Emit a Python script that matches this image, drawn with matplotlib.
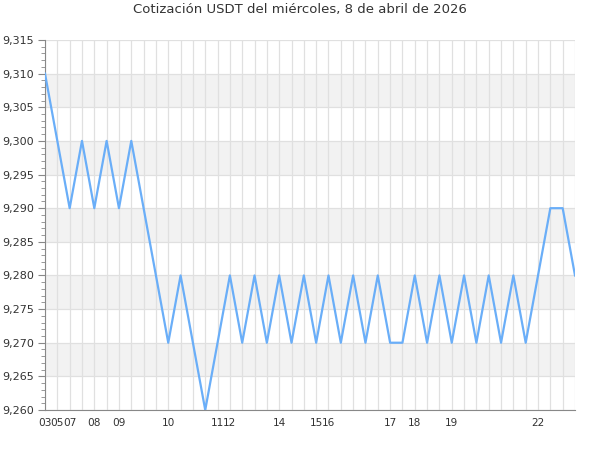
import matplotlib
matplotlib.use("Agg")
import matplotlib.pyplot as plt
from matplotlib.ticker import MultipleLocator, FuncFormatter

title = "Cotización USDT del miércoles, 8 de abril de 2026"
values = [9.310, 9.300, 9.290, 9.300, 9.290, 9.300, 9.290, 9.300, 9.290, 9.280,
          9.270, 9.280, 9.270, 9.260, 9.270, 9.280, 9.270, 9.280, 9.270, 9.280,
          9.270, 9.280, 9.270, 9.280, 9.270, 9.280, 9.270, 9.280, 9.270, 9.270,
          9.280, 9.270, 9.280, 9.270, 9.280, 9.270, 9.280, 9.270, 9.280, 9.270,
          9.280, 9.290, 9.290, 9.280]
tick_idx = [0, 1, 2, 4, 6, 10, 14, 15, 19, 22, 23, 28, 30, 33, 40]
tick_labels = ["03", "05", "07", "08", "09", "10", "11", "12", "14", "15", "16", "17", "18", "19", "22"]
y_min, y_max = 9.260, 9.315
band_starts = [9.265, 9.275, 9.285, 9.295, 9.305]

fig = plt.figure(figsize=(6, 4.5), dpi=100)
ax = fig.add_axes([45/600, 40/450, 530/600, 370/450])

x = list(range(len(values)))
for b in band_starts:
    ax.axhspan(b, b + 0.005, color="#f2f2f2", zorder=0, lw=0)
for xi in x:
    ax.axvline(xi, color="#e0e0e0", lw=0.9, zorder=1)
ax.yaxis.set_major_locator(MultipleLocator(0.005))
ax.yaxis.set_minor_locator(MultipleLocator(0.001))
ax.grid(axis="y", which="major", color="#e0e0e0", lw=0.9, zorder=1)
ax.set_axisbelow(True)

ax.plot(x, values, color="#6aaef8", lw=1.6, zorder=3)

ax.set_xlim(0, len(values) - 1)
ax.set_ylim(y_min, y_max)
ax.set_xticks(tick_idx)
ax.set_xticklabels(tick_labels)
ax.yaxis.set_major_formatter(FuncFormatter(lambda v, p: f"{v:.3f}".replace(".", ",")))

for s in ["top", "right"]:
    ax.spines[s].set_visible(False)
ax.spines["left"].set_color("#888888")
ax.spines["bottom"].set_color("#888888")
ax.tick_params(axis="x", length=0, pad=6, labelsize=7.6, labelcolor="#333333")
ax.tick_params(axis="y", which="major", length=5, color="#888888", labelsize=8, labelcolor="#333333", pad=3)
ax.tick_params(axis="y", which="minor", length=3, color="#888888")

fig.text(0.5, 1 - 10/450, title, ha="center", va="center", fontsize=9.5, color="#333333")
fig.savefig("out.png", dpi=100)
